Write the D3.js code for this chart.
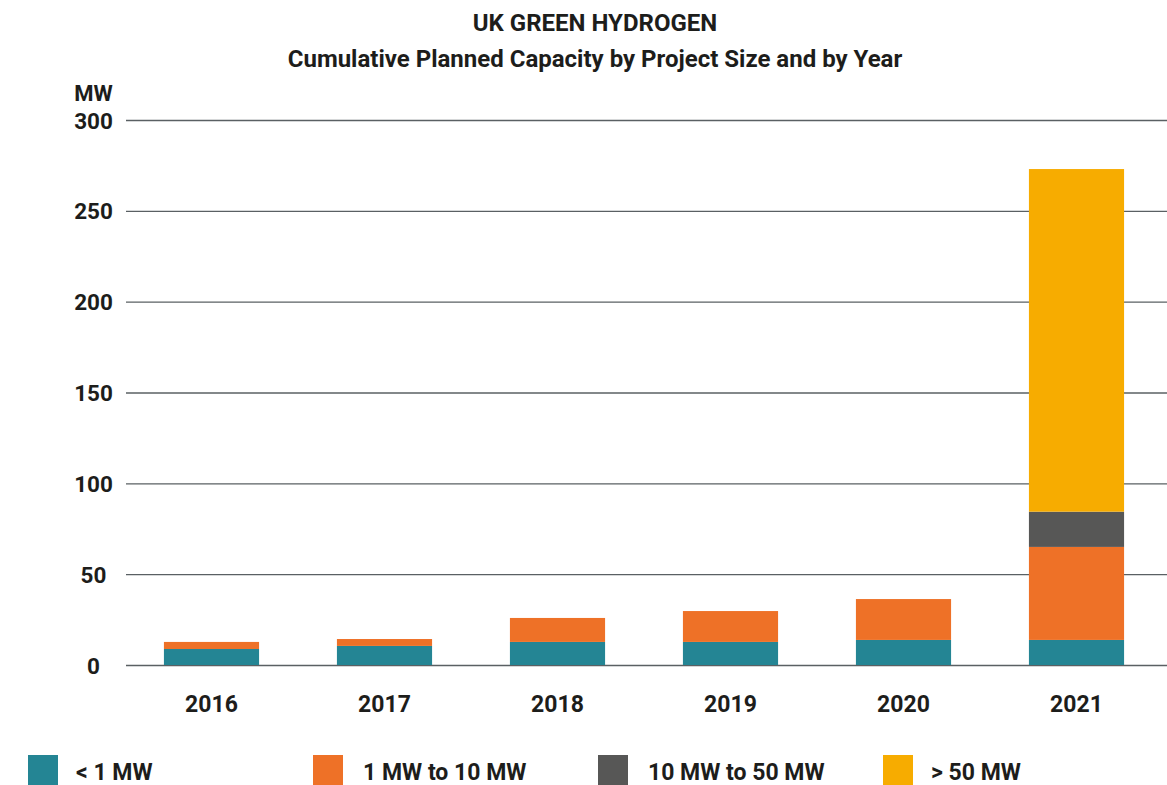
<!DOCTYPE html>
<html>
<head>
<meta charset="utf-8">
<script src="https://cdn.jsdelivr.net/npm/d3@7"></script>
<style>
  html, body { margin: 0; padding: 0; background: #fff; }
  svg { display: block; }
  text { font-family: Roboto, "Noto Sans", sans-serif; font-weight: 700; fill: #1d1d1b; }
</style>
</head>
<body>
<svg id="chart" width="1167" height="785"></svg>
<script>
const years = ["2016", "2017", "2018", "2019", "2020", "2021"];
const seriesNames = ["< 1 MW", "1 MW to 10 MW", "10 MW to 50 MW", "> 50 MW"];
const seriesColors = ["#248594", "#ee7127", "#575756", "#f7ac00"];
const under1 = [8.8, 10.5, 12.7, 12.7, 13.8, 13.8];
const from1to10 = [3.9, 3.8, 13.2, 17.0, 22.5, 51.2];
const from10to50 = [0, 0, 0, 0, 0, 19.4];
const over50 = [0, 0, 0, 0, 0, 188.6];
const yTicks = [0, 50, 100, 150, 200, 250, 300];

const svg = d3.select("#chart");
const W = 1167;

const rows = years.map((y, i) => ({
  year: y,
  s0: under1[i], s1: from1to10[i], s2: from10to50[i], s3: over50[i]
}));
const keys = ["s0", "s1", "s2", "s3"];
const stacked = d3.stack().keys(keys)(rows);

const x = d3.scaleBand().domain(years).range([125, 1163]).paddingInner(0.45).paddingOuter(0.225);
const y = d3.scaleLinear().domain([0, 300]).range([665, 120]);

// Titles
svg.append("text").attr("x", 595).attr("y", 31).attr("text-anchor", "middle")
  .style("font-size", "24px").text("UK GREEN HYDROGEN");
svg.append("text").attr("x", 595).attr("y", 67).attr("text-anchor", "middle")
  .style("font-size", "24px").text("Cumulative Planned Capacity by Project Size and by Year");

// Unit label
svg.append("text").attr("x", 93.5).attr("y", 101).attr("text-anchor", "middle")
  .style("font-size", "22px").text("MW");

// Gridlines
const yAxis = d3.axisLeft(y).tickValues(yTicks).tickSize(-(W - 126)).tickFormat(d3.format("d")).tickPadding(0);
const gy = svg.append("g").attr("transform", "translate(126,0)").call(yAxis);
gy.select(".domain").remove();
gy.selectAll(".tick line").attr("stroke", "#5a6063").attr("stroke-width", 1.3);
gy.selectAll(".tick text")
  .attr("x", 93.5 - 126).attr("text-anchor", "middle").attr("dy", "0.36em")
  .style("font-size", "22.5px").style("font-family", "Roboto, sans-serif").style("font-weight", 700).attr("fill", "#1d1d1b");

// Bars
const layer = svg.append("g").selectAll("g").data(stacked).join("g")
  .attr("fill", (d, i) => seriesColors[i]);
layer.selectAll("rect").data(d => d).join("rect")
  .attr("x", d => x(d.data.year))
  .attr("width", x.bandwidth())
  .attr("y", d => y(d[1]))
  .attr("height", d => Math.max(0, y(d[0]) - y(d[1])));

// X axis labels
const xAxis = d3.axisBottom(x).tickSize(0).tickPadding(0);
const gx = svg.append("g").attr("transform", "translate(0,712)").call(xAxis);
gx.select(".domain").remove();
gx.selectAll(".tick text").attr("dy", 0).attr("y", 0)
  .style("font-size", "23px").style("font-family", "Roboto, sans-serif").style("font-weight", 700).attr("fill", "#1d1d1b");

// Legend
const legendX = d3.scaleOrdinal().domain(seriesNames).range([28, 313, 598, 883]);
const lg = svg.append("g").selectAll("g").data(seriesNames).join("g")
  .attr("transform", d => `translate(${legendX(d)},755)`);
lg.append("rect").attr("width", 30).attr("height", 30).attr("fill", (d, i) => seriesColors[i]);
lg.append("text").attr("x", (d, i) => i === 0 || i === 3 ? 48 : 50).attr("y", 25)
  .style("font-size", "23px").text(d => d);
</script>
</body>
</html>
